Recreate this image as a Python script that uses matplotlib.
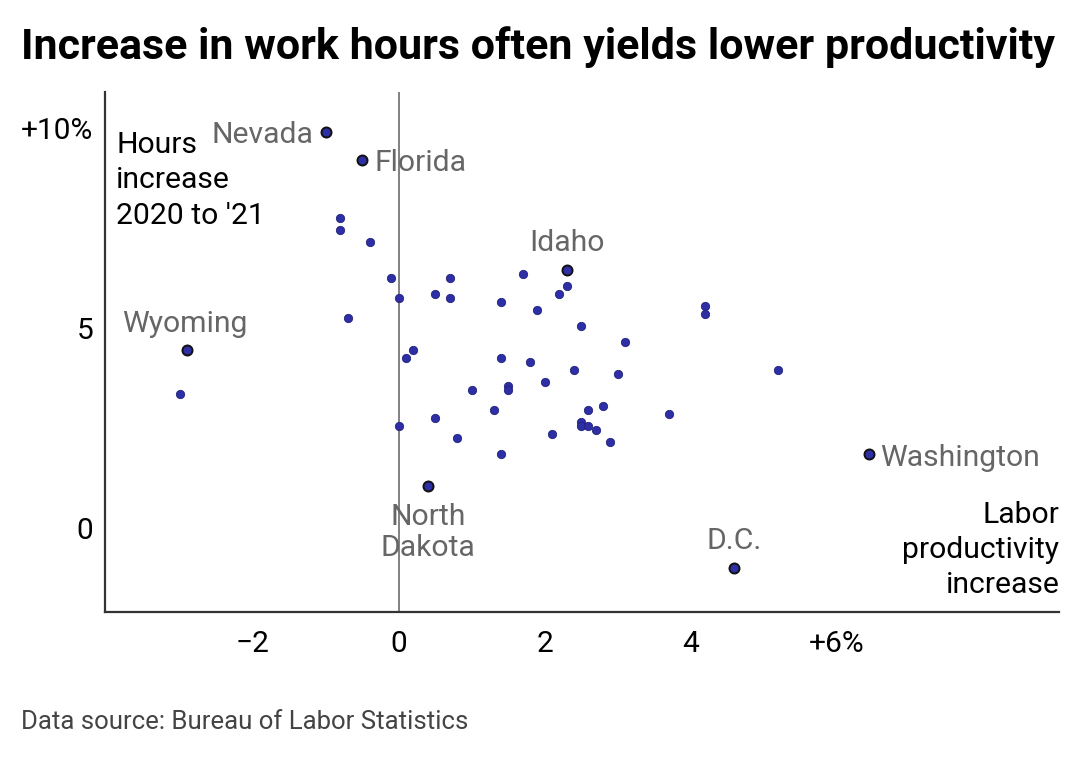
import matplotlib.pyplot as plt

plt.rcParams['font.family'] = ['Roboto', 'DejaVu Sans']

# productivity increase (x, %) and hours increase (y, %) per state
prod = [-0.8, -0.8, -0.4, -0.1, 0.7, 0.0, 0.5, 0.7, -0.7, 0.1, 0.2,
        1.7, 2.3, 2.2, 1.4, 1.9, 2.5, 4.2, 4.2, 3.1, 1.4, 1.8, 2.4,
        3.0, 2.0, 1.5, 1.5, 1.0, 1.3, 2.6, 2.8, 3.7, 0.5, 0.0, 2.5,
        2.5, 2.6, 2.7, 0.8, 2.1, 2.9, 1.4, 5.2, -3.0]
hours = [7.75, 7.45, 7.15, 6.25, 6.25, 5.75, 5.85, 5.75, 5.25, 4.25, 4.45,
         6.35, 6.05, 5.85, 5.65, 5.45, 5.05, 5.55, 5.35, 4.65, 4.25, 4.15, 3.95,
         3.85, 3.65, 3.55, 3.45, 3.45, 2.95, 2.95, 3.05, 2.85, 2.75, 2.55, 2.65,
         2.55, 2.55, 2.45, 2.25, 2.35, 2.15, 1.85, 3.95, 3.35]

# highlighted states
lab_names = ['Nevada', 'Florida', 'Idaho', 'Wyoming', 'Washington', 'North\nDakota', 'D.C.']
lab_prod = [-1.0, -0.5, 2.3, -2.9, 6.45, 0.4, 4.6]
lab_hours = [9.88, 9.2, 6.45, 4.45, 1.85, 1.05, -1.0]

fig = plt.figure(figsize=(10.8, 7.7), dpi=100)
ax = fig.add_axes([0.0968, 0.205, 0.884, 0.676])

blue = '#2e2ea6'
ax.axvline(0, color='#777777', lw=1.3, zorder=1)
ax.scatter(prod, hours, s=36, color=blue, edgecolor='#24247a', linewidth=0.6, zorder=3)
ax.scatter(lab_prod, lab_hours, s=52, color=blue, edgecolor='#111111', linewidth=1.4, zorder=4)

# label placement: (dx, dy) in pixels, ha, va
offsets = {
    'Nevada': (-12, -3, 'right', 'center'),
    'Florida': (12, -3, 'left', 'center'),
    'Idaho': (0, 13, 'center', 'bottom'),
    'Wyoming': (-2, 12, 'center', 'bottom'),
    'Washington': (11, -4, 'left', 'center'),
    'North\nDakota': (0, -17, 'center', 'top'),
    'D.C.': (0, 13, 'center', 'bottom'),
}
for name, x, y in zip(lab_names, lab_prod, lab_hours):
    dx, dy, ha, va = offsets[name]
    ax.annotate(name, (x, y), xytext=(dx, dy), textcoords='offset pixels',
                ha=ha, va=va, fontsize=21.7, color='#666666', linespacing=1.12,
                zorder=5)

ax.set_xlim(-4.03, 9.05)
ax.set_ylim(-2.1, 10.9)
ax.set_xticks([-2, 0, 2, 4, 6])
ax.set_xticklabels(['\u22122', '0', '2', '4', '+6%'])
ax.set_yticks([0, 5, 10])
ax.set_yticklabels(['0', '5', '+10%'])
ax.tick_params(length=0, labelsize=21.5, colors='black', pad=13)
ax.tick_params(axis='y', pad=8)

for side in ['top', 'right']:
    ax.spines[side].set_visible(False)
for side in ['left', 'bottom']:
    ax.spines[side].set_color('#333333')
    ax.spines[side].set_linewidth(1.6)

ax.text(0.012, 0.924, "Hours\nincrease\n2020 to '21", transform=ax.transAxes,
        ha='left', va='top', fontsize=21.7, color='black', linespacing=1.33)
ax.text(1.0, 0.214, 'Labor\nproductivity\nincrease', transform=ax.transAxes,
        ha='right', va='top', fontsize=21.7, color='black', linespacing=1.33)

fig.text(0.019, 0.939, 'Increase in work hours often yields lower productivity',
         fontsize=31, fontweight='bold', ha='left', va='center')
fig.text(0.019, 0.062, 'Data source: Bureau of Labor Statistics',
         fontsize=18.5, color='#444444', ha='left', va='center')

fig.savefig('out.png', dpi=100)
